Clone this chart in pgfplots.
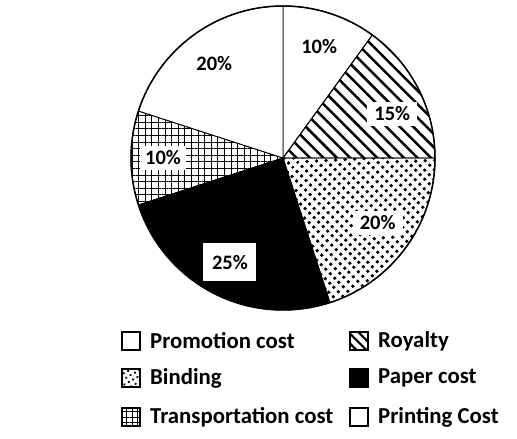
\documentclass[border=0pt]{standalone}
\usepackage{fontspec}
\setmainfont{Carlito}
\usepackage{pgfplots}
\usepackage{pgfplotstable}
\pgfplotsset{compat=1.18}
\usetikzlibrary{patterns.meta}

% share of each cost, clockwise from 12 o'clock
\pgfplotstableread{
label value
Promotion 10
Royalty 15
Binding 20
Paper 25
Transportation 10
Printing 20
}\costs

\tikzset{
  slice/.style={draw=black, line width=0.9pt},
  slice0/.style={slice, fill=white},
  slice1/.style={slice, pattern={Lines[angle=-45, distance=9.5pt, line width=2.5pt]}},
  slice2/.style={slice, pattern={Dots[angle=45, distance=6.4pt, radius=1.75pt]}},
  slice3/.style={slice, fill=black},
  slice4/.style={slice, pattern={Hatch[angle=0, distance=6.6pt, line width=0.9pt]}},
  slice5/.style={slice, fill=white},
  lbl/.style={font=\fontsize{20.5}{24}\selectfont\bfseries, inner xsep=4pt, inner ysep=3pt},
  lbl0/.style={lbl},
  lbl1/.style={lbl, fill=white, inner xsep=7pt, inner ysep=5pt, xshift=5pt, yshift=-9pt},
  lbl2/.style={lbl, fill=white, inner xsep=7pt, inner ysep=5pt, yshift=4pt},
  lbl3/.style={lbl, fill=white, minimum width=53pt, minimum height=38pt},
  lbl4/.style={lbl, fill=white, inner xsep=5pt, inner ysep=5pt, xshift=-3pt},
  lbl5/.style={lbl},
  key/.style={draw=black, line width=1.2pt},
  keytext/.style={anchor=west, font=\fontsize{22.8}{26}\selectfont\bfseries, inner sep=0pt},
}

\begin{document}
\begin{tikzpicture}
\begin{axis}[
  width=517pt, height=439pt,
  scale only axis,
  xmin=0, xmax=517, ymin=0, ymax=439,
  hide axis,
  clip=false,
]
\path (axis cs:0,0) rectangle (axis cs:517,439);

\pgfplotstablegetrowsof{\costs}
\pgfmathtruncatemacro\last{\pgfplotsretval-1}
\gdef\startangle{90}
\pgfplotsforeachungrouped \i in {0,...,\last}{%
  \pgfplotstablegetelem{\i}{value}\of\costs
  \let\v\pgfplotsretval
  \pgfmathsetmacro\endangle{\startangle-3.6*\v}
  \edef\temp{%
    \noexpand\draw[slice\i] (axis cs:283,281) -- ++(\startangle:152pt)
      arc[start angle=\startangle, end angle=\endangle, radius=152pt] -- cycle;
  }\temp
  \global\let\startangle\endangle
}
\gdef\startangle{90}
\pgfplotsforeachungrouped \i in {0,...,\last}{%
  \pgfplotstablegetelem{\i}{value}\of\costs
  \let\v\pgfplotsretval
  \pgfmathsetmacro\endangle{\startangle-3.6*\v}
  \pgfmathsetmacro\midangle{(\startangle+\endangle)/2}
  \edef\temp{%
    \noexpand\node[lbl\i] at ([shift={(\midangle:117pt)}]axis cs:283,281) {\v\noexpand\%};
  }\temp
  \global\let\startangle\endangle
}
\draw[line width=1.5pt] (axis cs:283,281) circle[radius=152pt];

% legend
\draw[key, fill=white] (axis cs:122,89) rectangle (axis cs:140,107);
\node[keytext] at (axis cs:150,98) {Promotion cost};
\draw[key, pattern={Lines[angle=-45, distance=7pt, line width=2.2pt]}] (axis cs:350,89) rectangle (axis cs:368,107);
\node[keytext] at (axis cs:378,98) {Royalty};
\draw[key, pattern={Dots[angle=30, distance=5pt, radius=1.3pt]}] (axis cs:122,52) rectangle (axis cs:140,70);
\node[keytext] at (axis cs:150,61) {Binding};
\draw[key, fill=black] (axis cs:350,52) rectangle (axis cs:368,70);
\node[keytext] at (axis cs:378,61) {Paper cost};
\draw[key, pattern={Hatch[angle=0, distance=5.5pt, line width=0.9pt]}] (axis cs:122,13) rectangle (axis cs:140,31);
\node[keytext] at (axis cs:150,22) {Transportation cost};
\draw[key, fill=white] (axis cs:350,13) rectangle (axis cs:368,31);
\node[keytext] at (axis cs:378,22) {Printing Cost};
\end{axis}
\end{tikzpicture}
\end{document}
